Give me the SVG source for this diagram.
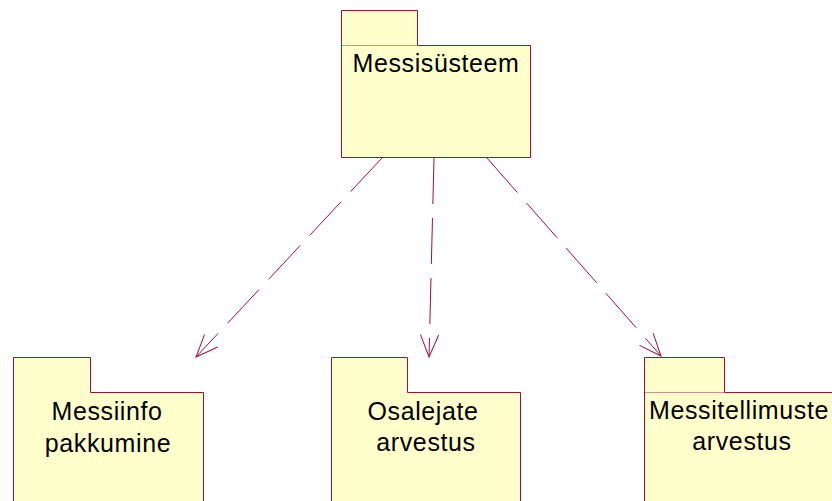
<svg xmlns="http://www.w3.org/2000/svg" width="832" height="501" viewBox="0 0 832 501">
<style>
.pkg{fill:#FFFFCC;stroke:#A0103C;stroke-width:1}
.sep{fill:none;stroke:#D88A9C;stroke-width:1}
.lbl{font-family:"Liberation Sans",Arial,sans-serif;font-size:25px;letter-spacing:0.6px;fill:#000;text-anchor:middle}
.dep{fill:none;stroke:#A0103C;stroke-width:1;stroke-dasharray:46 14}
</style>
<defs>
<marker id="open" markerUnits="userSpaceOnUse" markerWidth="30" markerHeight="30" viewBox="-26 -15 30 30" refX="0" refY="0" orient="auto" overflow="visible">
<path d="M-22.2,-9.1 L0,0 L-22.2,9.1" fill="none" stroke="#A0103C" stroke-width="1" stroke-dasharray="none"/>
</marker>
</defs>
<rect width="832" height="501" fill="#FFFFFF"/>
<g id="connectors">
<line class="dep" x1="382" y1="158" x2="196" y2="357" marker-end="url(#open)"/>
<line class="dep" x1="434" y1="158" x2="429" y2="357" marker-end="url(#open)"/>
<line class="dep" x1="487" y1="158" x2="661" y2="356" marker-end="url(#open)"/>
</g>
<g id="messisusteem">
<path class="pkg" d="M341.5,157.5 V10.5 H417.5 V45.5 H530.5 V157.5 Z"/>
<line class="sep" x1="342" y1="45.5" x2="417" y2="45.5"/>
<text class="lbl" x="436" y="72">Messisüsteem</text>
</g>
<g id="messiinfo">
<path class="pkg" d="M13.5,512 V357.5 H90.5 V392.5 H203.5 V512 Z"/>
<text class="lbl" x="107" y="420">Messiinfo</text>
<text class="lbl" x="108" y="452">pakkumine</text>
</g>
<g id="osalejate">
<path class="pkg" d="M331.5,512 V357.5 H407.5 V392.5 H520.5 V512 Z"/>
<text class="lbl" x="423" y="420">Osalejate</text>
<text class="lbl" x="426" y="451">arvestus</text>
</g>
<g id="messitellimuste">
<path class="pkg" d="M644.5,512 V357.5 H724.5 V392.5 H840 V512 Z"/>
<line class="sep" x1="645" y1="392.5" x2="724" y2="392.5"/>
<text class="lbl" x="739" y="419">Messitellimuste</text>
<text class="lbl" x="742" y="450">arvestus</text>
</g>
</svg>
